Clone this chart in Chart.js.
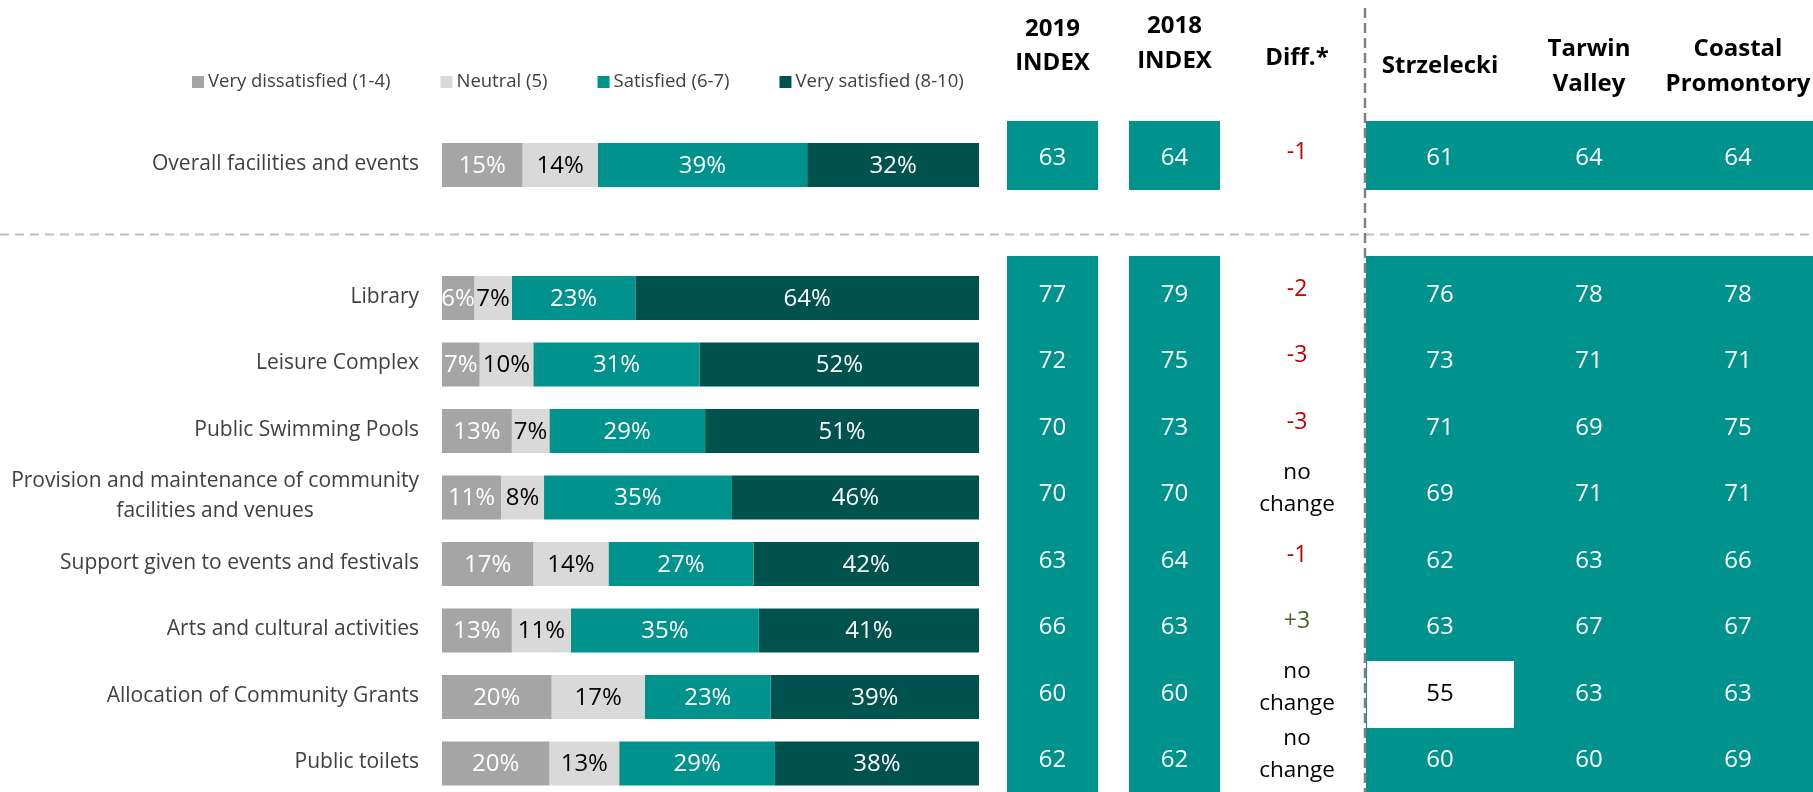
<!DOCTYPE html>
<html lang="en">
<head>
<meta charset="UTF-8">
<title>Satisfaction with facilities and events</title>
<style>
    body {
        margin: 0;
        padding: 0;
        background: #fff;
        overflow: hidden;
    }
    canvas {
        display: block;
    }
</style>
<script src="https://cdn.jsdelivr.net/npm/chart.js"></script>
</head>
<body>
<canvas id="chart" width="1813" height="800"></canvas>
<script>
    // rows of the chart; the empty one is the gap under the overall row
    const categories = [
        'Overall facilities and events',
        '',
        'Library',
        'Leisure Complex',
        'Public Swimming Pools',
        ['Provision and maintenance of community', 'facilities and venues'],
        'Support given to events and festivals',
        'Arts and cultural activities',
        'Allocation of Community Grants',
        'Public toilets'
    ];

    const veryDissatisfied = [15, null, 6, 7, 13, 11, 17, 13, 20.4, 20];
    const neutral          = [14, null, 7, 10, 7, 8, 14, 11, 17.4, 13];
    const satisfied        = [39, null, 23, 31, 29, 35, 27, 35, 23.4, 29];
    const verySatisfied    = [32, null, 64, 52, 51, 46, 42, 41, 38.8, 38];

    const index2019 = [63, null, 77, 72, 70, 70, 63, 66, 60, 62];
    const index2018 = [64, null, 79, 75, 73, 70, 64, 63, 60, 62];

    const areas = ['Strzelecki', 'Tarwin Valley', 'Coastal Promontory'];
    const strzelecki        = [61, null, 76, 73, 71, 69, 62, 63, 55, 60];
    const tarwinValley      = [64, null, 78, 71, 69, 71, 63, 67, 63, 60];
    const coastalPromontory = [64, null, 78, 71, 75, 71, 66, 67, 63, 69];

    // results significantly lower than the shire average
    const lowerThanAverage = [['Strzelecki', 'Allocation of Community Grants']];

    const columnHeaders = [['2019', 'INDEX'], ['2018', 'INDEX'], ['Diff.*'], ['Strzelecki'], ['Tarwin', 'Valley'], ['Coastal', 'Promontory']];

    const FONT = "'Open Sans', sans-serif";
    const TEAL = '#00928C';
    const DARK = '#00524F';

    // column layout of the index table (pixels)
    const cols = [
        { cx: 1052.5, x0: 1007, x1: 1098, head: [29, 63] },
        { cx: 1174.5, x0: 1129, x1: 1220, head: [26, 61] },
        { cx: 1297, head: [58] },
        { cx: 1440, x0: 1366, x1: 1514, head: [66] },
        { cx: 1589, x0: 1514, x1: 1663, head: [49, 84] },
        { cx: 1738, x0: 1663, x1: 1813, head: [49, 84] }
    ];

    function diffText(i) {
        const d = index2019[i] - index2018[i];
        if (d === 0) return ['no', 'change'];
        return [(d > 0 ? '+' : '') + d];
    }

    const tablePlugin = {
        id: 'indexTable',
        afterDatasetsDraw(chart) {
            const ctx = chart.ctx;
            const yScale = chart.scales.y;
            const area = chart.chartArea;
            const H = chart.height;
            ctx.save();

            // legend
            ctx.font = '18.5px ' + FONT;
            ctx.textBaseline = 'middle';
            ctx.textAlign = 'left';
            let lx = 192;
            chart.data.datasets.forEach(ds => {
                ctx.fillStyle = ds.backgroundColor;
                ctx.fillRect(lx, 76, 12, 12);
                ctx.fillStyle = '#404040';
                ctx.fillText(ds.label, lx + 16, 82);
                lx += 16 + ctx.measureText(ds.label).width + 50;
            });

            // row labels, right aligned, multi-line labels centred on each other
            ctx.font = '21px ' + FONT;
            ctx.fillStyle = '#404040';
            categories.forEach((lab, i) => {
                if (!lab) return;
                const lines = Array.isArray(lab) ? lab : [lab];
                const yc = yScale.getPixelForValue(i);
                const w = Math.max(...lines.map(l => ctx.measureText(l).width));
                const right = area.left - 23;
                ctx.textAlign = 'center';
                lines.forEach((l, k) => {
                    const ly = yc + (k - (lines.length - 1) / 2) * 30 - 1;
                    ctx.fillText(l, right - w / 2, ly);
                });
            });

            // value labels in the bars
            ctx.font = '24px ' + FONT;
            ctx.textAlign = 'center';
            chart.data.datasets.forEach((ds, d) => {
                const meta = chart.getDatasetMeta(d);
                meta.data.forEach((bar, i) => {
                    const v = ds.data[i];
                    if (v == null) return;
                    ctx.fillStyle = d === 1 ? '#000' : '#fff';
                    ctx.fillText(Math.round(v) + '%', (bar.x + bar.base) / 2, bar.y + 1);
                });
            });

            // dashed separator under the overall row
            const sepY = (yScale.getPixelForValue(0) + yScale.getPixelForValue(2)) / 2 + 3;
            ctx.strokeStyle = '#BFBFBF';
            ctx.lineWidth = 2;
            ctx.setLineDash([9, 6]);
            ctx.beginPath();
            ctx.moveTo(0, sepY);
            ctx.lineTo(chart.width, sepY);
            ctx.stroke();

            // teal blocks of the table
            const y0 = yScale.getPixelForValue(0);
            const top = yScale.getPixelForValue(2) - 42;
            ctx.fillStyle = TEAL;
            [cols[0], cols[1]].forEach(c => {
                ctx.fillRect(c.x0, y0 - 44, c.x1 - c.x0, 69);
                ctx.fillRect(c.x0, top, c.x1 - c.x0, H - top);
            });
            ctx.fillRect(cols[3].x0, y0 - 44, cols[5].x1 - cols[3].x0, 69);
            ctx.fillRect(cols[3].x0, top, cols[5].x1 - cols[3].x0, H - top);

            // highlighted (white) cells
            lowerThanAverage.forEach(([a, item]) => {
                const c = cols[3 + areas.indexOf(a)];
                const yc = yScale.getPixelForValue(categories.indexOf(item));
                ctx.fillStyle = '#fff';
                ctx.fillRect(c.x0 + 1, yc - 36, c.x1 - c.x0 - 1, 67);
            });

            // vertical dashed divider
            ctx.strokeStyle = '#808080';
            ctx.lineWidth = 2.5;
            ctx.setLineDash([10, 5]);
            ctx.beginPath();
            ctx.moveTo(1365, 8);
            ctx.lineTo(1365, H);
            ctx.stroke();
            ctx.setLineDash([]);

            // table values
            const tableSeries = [index2019, index2018, null, strzelecki, tarwinValley, coastalPromontory];
            categories.forEach((lab, i) => {
                if (!lab) return;
                const yc = yScale.getPixelForValue(i) + (i === 0 ? -7 : -3);
                tableSeries.forEach((series, c) => {
                    ctx.textAlign = 'center';
                    if (series === null) {
                        const t = diffText(i);
                        if (t.length === 2) {
                            ctx.font = '22.5px ' + FONT;
                            ctx.fillStyle = '#000';
                            ctx.fillText(t[0], cols[c].cx, yc - 22);
                            ctx.fillText(t[1], cols[c].cx, yc + 10);
                        } else {
                            ctx.font = '23px ' + FONT;
                            ctx.fillStyle = t[0][0] === '+' ? '#4F6228' : '#C00000';
                            ctx.fillText(t[0], cols[c].cx, yc - 6);
                        }
                        return;
                    }
                    const flagged = lowerThanAverage.some(([a, item]) =>
                        c >= 3 && areas[c - 3] === a && categories.indexOf(item) === i);
                    ctx.font = '24px ' + FONT;
                    ctx.fillStyle = flagged ? '#000' : '#fff';
                    ctx.fillText(series[i], cols[c].cx, yc);
                });
            });

            // column headers
            ctx.font = 'bold 24px ' + FONT;
            ctx.fillStyle = '#000';
            ctx.textAlign = 'center';
            columnHeaders.forEach((lines, c) => {
                lines.forEach((l, k) => ctx.fillText(l, cols[c].cx, cols[c].head[k]));
            });

            ctx.restore();
        }
    };

    const ctx = document.getElementById('chart').getContext('2d');

    const chart = new Chart(ctx, {
        type: 'bar',
        data: {
            labels: categories,
            datasets: [
                { label: 'Very dissatisfied (1-4)', data: veryDissatisfied, backgroundColor: '#A5A5A5' },
                { label: 'Neutral (5)', data: neutral, backgroundColor: '#D9D9D9' },
                { label: 'Satisfied (6-7)', data: satisfied, backgroundColor: TEAL },
                { label: 'Very satisfied (8-10)', data: verySatisfied, backgroundColor: DARK }
            ]
        },
        options: {
            indexAxis: 'y',
            responsive: false,
            animation: false,
            devicePixelRatio: 1,
            layout: {
                padding: { left: 442, right: 834, top: 131.75, bottom: 3.25 }
            },
            datasets: {
                bar: { categoryPercentage: 1, barPercentage: 0.662, borderWidth: 0 }
            },
            scales: {
                x: { stacked: true, min: 0, max: 100, display: false },
                y: { stacked: true, display: false }
            },
            plugins: {
                legend: { display: false },
                tooltip: { enabled: false }
            }
        },
        plugins: [tablePlugin]
    });
</script>
</body>
</html>
